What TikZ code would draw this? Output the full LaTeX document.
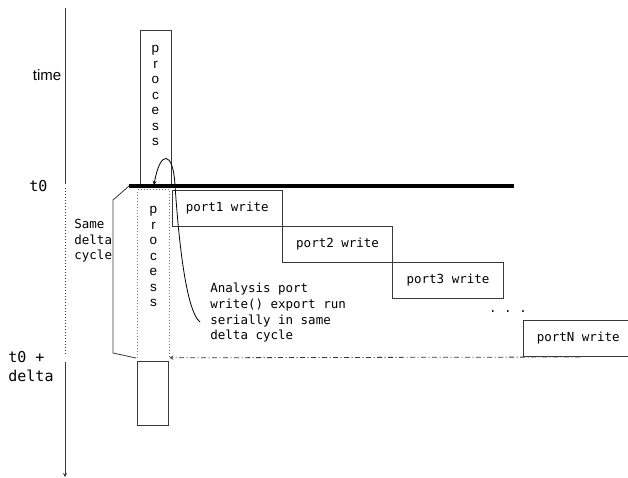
\documentclass[tikz,border=0pt]{standalone}
\usepackage{fontspec}
\setmainfont{Liberation Sans}
\setsansfont{Liberation Sans}
\setmonofont[WordSpace={1,0,0}]{DejaVu Sans Mono}
\usetikzlibrary{arrows.meta, positioning, calc}

\colorlet{linegray}{black!78}
\tikzset{
  portbox/.style={draw=linegray, minimum width=110.4pt, minimum height=36pt,
    inner sep=0pt, outer sep=0pt, anchor=north west,
    font=\ttfamily\fontsize{12.5}{15}\selectfont},
  procbox/.style={draw=linegray, minimum width=31pt, inner sep=0pt, anchor=north},
  vword/.style={align=center, inner sep=0pt, anchor=north, font=\sffamily\fontsize{13.5}{15.5}\selectfont},
  monolabel/.style={align=left, inner sep=0pt, anchor=west, font=\ttfamily\fontsize{12.5}{15.6}\selectfont},
  biglabel/.style={align=left, inner sep=0pt, anchor=west, font=\ttfamily\fontsize{15}{19}\selectfont}
}

\begin{document}
\begin{tikzpicture}[x=1pt, y=-1pt, >=stealth, line width=0.8pt]
  \useasboundingbox (0,0) rectangle (628,478);

  % time axis
  \coordinate (axtop) at (65,8);
  \coordinate (axt0) at (65,184);
  \coordinate (axdota) at (65,188);
  \coordinate (axdotb) at (65,356);
  \coordinate (axdelta) at (65,362);
  \coordinate (axbot) at (65,477);
  \draw[linegray] (axtop) -- (axt0);
  \draw[linegray, dotted, line width=1pt] (axdota) -- (axdotb);
  \draw[linegray, ->] (axdelta) -- (axbot);

  \node[font=\sffamily\fontsize{15}{18}\selectfont, inner sep=0pt] (timelbl) at (47,75) {time};
  \node[biglabel] (t0lbl) at (29,186) {t0};
  \node[biglabel, anchor=north west] (t0dlbl) at (8,351) {t0 +\\delta};

  % process before t0
  \node[procbox, minimum height=156pt] (proc1) at (155.5,30) {};
  \node[vword] (proc1txt) at (155.5,45) {p\\r\\o\\c\\e\\s\\s};

  % t0 line
  \coordinate (t0left) at (129,186);
  \coordinate (t0right) at (514,186);
  \draw[line width=4pt] (t0left) -- (t0right);

  % process in the same delta cycle
  \node[minimum width=31pt, minimum height=167pt, inner sep=0pt, anchor=north] (proc2) at (153.5,190) {};
  \draw[linegray!70, dotted, line width=1pt] (proc2.south west) |- (proc2.north east) -- (proc2.south east);
  \node[vword] (proc2txt) at (153.5,206) {p\\r\\o\\c\\e\\s\\s};

  % process after delta
  \node[procbox, minimum height=64pt] (proc3) at (152.5,361) {};

  % same delta cycle bracket
  \coordinate (brtop) at (113,200);
  \coordinate (brbot) at (113,353);
  \coordinate (brend) at (136,358);
  \draw[linegray] (t0left) -- (brtop) -- (brbot) -- (brend);
  \node[monolabel, anchor=north west] (samelbl) at (74,219) {Same\\delta\\cycle};

  % port writes
  \node[portbox] (port1) at (172,190) {port1 write};
  \node[portbox] (port2) at (port1.south east) {port2 write};
  \node[portbox] (port3) at (port2.south east) {port3 write};
  \node[font=\ttfamily\fontsize{12.5}{15}\selectfont, inner sep=0pt] (dots) at (508,312) {. . .};
  \node[portbox] (portN) at (523,320) {portN write};

  % return to process
  \coordinate (retstart) at (580,357);
  \draw[linegray, ->, dash pattern=on 5pt off 2.5pt on 1pt off 2.5pt] (retstart) -- (proc2.south east);

  % note
  \node[monolabel, anchor=north west] (note) at (210,283) {Analysis port\\write() export run\\serially in same\\delta cycle};
  \coordinate (notetail) at (200,322);
  \coordinate (curvemid) at (175,185);
  \coordinate (curvetip) at (154,185);
  \draw[->] (notetail) .. controls (185,310) and (178,230) .. (curvemid)
    .. controls (173,150) and (160,150) .. (curvetip);
\end{tikzpicture}
\end{document}
